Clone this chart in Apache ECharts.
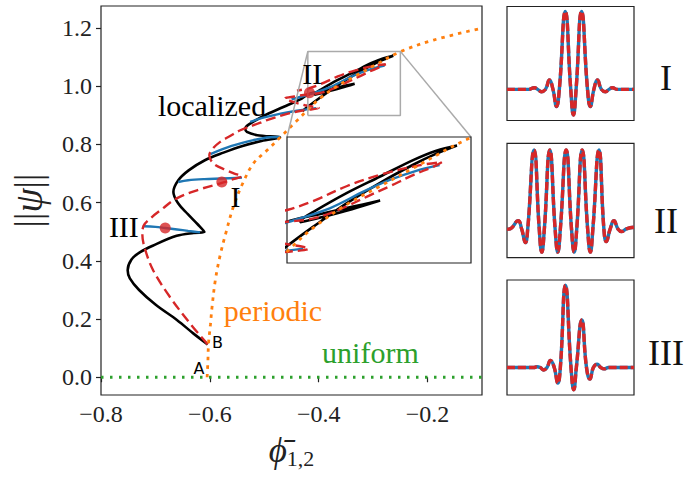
<!DOCTYPE html>
<html><head><meta charset="utf-8">
<script src="https://cdn.jsdelivr.net/npm/echarts@6/dist/echarts.min.js"></script>
<style>html,body{margin:0;padding:0;background:#fff}#c{width:685px;height:479px}</style>
</head><body><div id="c"></div>
<script>
// ---------- data ----------
const xTicks = [-0.8, -0.6, -0.4, -0.2];
const yTicks = [0.0, 0.2, 0.4, 0.6, 0.8, 1.0, 1.2];
const uniform = [[-0.8, 0], [-0.1, 0]];
const periodic = [[-0.605,0.0],[-0.6035,0.06],[-0.6025,0.115],[-0.599,0.18],[-0.596,0.241],[-0.590,0.333],[-0.581,0.420],[-0.570,0.50],[-0.557,0.585],[-0.540,0.665],[-0.520,0.735],[-0.495,0.780],[-0.471,0.824],[-0.44,0.882],[-0.415,0.929],[-0.396,0.961],[-0.365,1.002],[-0.334,1.034],[-0.303,1.066],[-0.25,1.119],[-0.189,1.159],[-0.1,1.20]];
const localized = [[-0.604,0.113],[-0.630,0.150],[-0.660,0.196],[-0.700,0.250],[-0.730,0.300],[-0.747,0.340],[-0.751,0.368],[-0.744,0.405],[-0.728,0.430],[-0.705,0.452],[-0.661,0.486],[-0.630,0.496],[-0.610,0.499],[-0.622,0.525],[-0.640,0.560],[-0.658,0.597],[-0.667,0.637],[-0.658,0.677],[-0.639,0.711],[-0.610,0.745],[-0.575,0.772],[-0.540,0.795],[-0.505,0.812],[-0.471,0.824],[-0.513,0.832],[-0.532,0.843],[-0.535,0.855],[-0.526,0.872],[-0.495,0.904],[-0.465,0.929],[-0.434,0.955],[-0.420,0.972],[-0.39,0.985],[-0.36,0.998],[-0.334,1.009],[-0.36,0.994],[-0.39,0.979],[-0.408,0.971],[-0.405,0.978],[-0.396,0.989],[-0.365,1.022],[-0.334,1.051],[-0.303,1.080],[-0.282,1.096],[-0.263,1.105],[-0.283,1.090],[-0.303,1.072],[-0.334,1.040],[-0.365,1.004],[-0.396,0.963],[-0.419,0.931],[-0.43,0.915]];
const redBranch = [[-0.604,0.113],[-0.636,0.184],[-0.673,0.275],[-0.704,0.367],[-0.719,0.44],[-0.724,0.49],[-0.722,0.52],[-0.708,0.548],[-0.690,0.575],[-0.661,0.615],[-0.620,0.645],[-0.578,0.668],[-0.555,0.682],[-0.541,0.691],[-0.555,0.700],[-0.569,0.711],[-0.593,0.734],[-0.601,0.763],[-0.594,0.787],[-0.581,0.809],[-0.562,0.83],[-0.544,0.849],[-0.507,0.875],[-0.495,0.884],[-0.458,0.905],[-0.43,0.917],[-0.40,0.925],[-0.425,0.935],[-0.45,0.948],[-0.462,0.958],[-0.445,0.965],[-0.42,0.972],[-0.40,0.976],[-0.383,0.985],[-0.365,0.999],[-0.346,1.016],[-0.325,1.034],[-0.303,1.054],[-0.285,1.068],[-0.277,1.076],[-0.297,1.071],[-0.334,1.054],[-0.365,1.034],[-0.396,1.008],[-0.419,0.993],[-0.44,0.985]];
const blue1 = [[-0.722,0.519],[-0.700,0.517],[-0.682,0.513],[-0.660,0.508],[-0.640,0.503],[-0.618,0.498]];
const blue2 = [[-0.658,0.671],[-0.64,0.677],[-0.61,0.681],[-0.578,0.683],[-0.541,0.686]];
const blue3 = [[-0.599,0.767],[-0.56,0.795],[-0.52,0.815],[-0.49,0.825],[-0.471,0.826]];
const blue4 = [[-0.526,0.878],[-0.50,0.893],[-0.47,0.906],[-0.44,0.916],[-0.405,0.925]];
const blue5 = [[-0.45,0.955],[-0.42,0.971],[-0.38,0.996],[-0.349,1.025],[-0.325,1.045],[-0.297,1.063],[-0.279,1.071]];
const markedPoints = [[-0.682,0.513],[-0.578,0.671],[-0.417,0.978]];
const zoomX = [-0.42, -0.25];
const zoomY = [0.90, 1.12];
const profileI = [[0,0],[17,0],[21.5,0.02],[24.2,0],[27,-0.03],[30.3,0],[33.4,0.12],[36.2,0],[39,-0.22],[41.2,0],[45.9,1.0],[50.2,0],[52.3,-0.33],[54.4,0],[58.7,1.0],[63.4,0],[65.6,-0.22],[68.4,0],[71.2,0.12],[74.3,0],[77.6,-0.03],[80.3,0],[83,0.02],[87,0],[100,0]];
const profileII = [[0,0],[3,0.01],[8.7,0.106],[11.6,0],[14.5,-0.17],[16.3,0],[21.3,1.0],[25.4,0],[27.4,-0.29],[29.4,0],[33.7,1.0],[37.9,0],[40,-0.29],[42,0],[46.6,1.0],[50.8,0],[52.9,-0.29],[54.9,0],[59.2,1.0],[63.5,0],[65.6,-0.29],[67.6,0],[72.4,1.0],[76.3,0],[78.2,-0.157],[81.2,0],[84.2,0.106],[87.5,0],[90.3,-0.03],[94,0.005],[100,0.025]];
const profileIII = [[0,0],[21,0],[23.7,0.01],[26.2,0],[28.9,-0.03],[31.5,0],[34.2,0.085],[37.2,0],[40,-0.19],[42,0],[46,1.0],[50.4,0],[52.6,-0.27],[54.6,0],[58.9,0.577],[62.6,0],[65.3,-0.141],[68,0],[71,0.04],[73.8,0],[76.3,-0.016],[80,0],[100,0]];
const annotations = [
  {text:'localized', at:[-0.596,0.935], color:'#000', size:30, font:'Liberation Serif'},
  {text:'II', at:[-0.412,1.044], color:'#000', size:30, font:'Liberation Serif'},
  {text:'I', at:[-0.553,0.622], color:'#000', size:30, font:'Liberation Serif'},
  {text:'III', at:[-0.758,0.519], color:'#000', size:30, font:'Liberation Serif'},
  {text:'periodic', at:[-0.484,0.230], color:'#ff7f0e', size:30, font:'Liberation Serif'},
  {text:'uniform', at:[-0.305,0.085], color:'#2ca02c', size:30, font:'Liberation Serif'},
  {text:'A', at:[-0.620,0.030], color:'#000', size:16, font:'DejaVu Sans'},
  {text:'B', at:[-0.586,0.119], color:'#000', size:16, font:'DejaVu Sans'}
];
const panelNames = ['I','II','III'];

// ---------- chart ----------
const RED='#d62728', BLUE='#1f77b4', ORANGE='#ff7f0e', GREEN='#2ca02c';
const chart = echarts.init(document.getElementById('c'), null, {renderer:'svg'});
const fmt = v => (Math.abs(v)<1e-9?0:v).toFixed(1).replace('-', '\u2212');
const serif = 'Liberation Serif';

function line(data, xi, color, width, type, z, extra) {
  return Object.assign({type:'line', data, xAxisIndex:xi, yAxisIndex:xi, showSymbol:false, symbol:'none',
    smooth:0.35, clip:true, z, silent:true, animation:false,
    lineStyle:{color, width, type, cap:'butt'}}, extra||{});
}
const hiddenAxis = (gi, min, max) => ({type:'value', gridIndex:gi, min, max, show:true,
  axisLine:{show:false}, axisTick:{show:false}, axisLabel:{show:false}, splitLine:{show:false}});

const series = [];
const panelTops = [6.5, 143.3, 280];
[0,1].forEach(gi => {
  const z = gi===0 ? 2 : 12;
  if (gi===0) series.push(line(uniform, 0, GREEN, 3, [2.5,6.5], z, {smooth:false}));
  series.push(line(localized, gi, '#000', 2.6, 'solid', z));
  [blue1,blue2,blue3,blue4,blue5].forEach(b => series.push(line(b, gi, BLUE, 2.4, 'solid', z)));
  series.push(line(redBranch, gi, RED, 2.4, [10,5], z));
  series.push(line(periodic, gi, ORANGE, 2.8, [3.5,5], z));
});
series.push(line([[zoomX[0],zoomY[0]],[zoomX[1],zoomY[0]],[zoomX[1],zoomY[1]],[zoomX[0],zoomY[1]],[zoomX[0],zoomY[0]]], 0, '#aaa', 1.5, 'solid', 3, {smooth:false}));
series.push({type:'scatter', data:markedPoints, xAxisIndex:0, yAxisIndex:0, symbolSize:11, z:4, silent:true,
  itemStyle:{color:RED}, animation:false});
[profileI, profileII, profileIII].forEach((p,i) => {
  series.push(line(p, 2+i, BLUE, 3.4, 'solid', 2, {smooth:0.5}));
  series.push(line(p, 2+i, RED, 3.4, [8,3], 3, {smooth:0.5}));
});

const gridBase = {show:true, borderColor:'#222', borderWidth:1.2, containLabel:false, outerBoundsMode:'none'};
const option = {
  backgroundColor:'#fff',
  animation:false,
  grid:[
    Object.assign({left:101, top:6, width:381, height:389, backgroundColor:'transparent', z:0}, gridBase),
    Object.assign({left:287, top:137, width:184, height:126, backgroundColor:'#fff', z:10}, gridBase),
    Object.assign({left:507, top:panelTops[0], width:127, height:114}, gridBase),
    Object.assign({left:507, top:panelTops[1], width:127, height:114.4}, gridBase),
    Object.assign({left:507, top:panelTops[2], width:127, height:115}, gridBase)
  ],
  xAxis:[
    {type:'value', gridIndex:0, min:-0.8, max:-0.1,
     axisLine:{show:false}, splitLine:{show:false},
     axisTick:{show:true, customValues:xTicks, length:5, lineStyle:{color:'#222', width:1.2}},
     axisLabel:{customValues:xTicks, formatter:fmt, fontFamily:serif, fontSize:24, color:'#222', margin:7},
     name:'{p|\u03D5\u0304}{s|1,2}', nameLocation:'middle', nameGap:36,
     nameTextStyle:{rich:{p:{fontFamily:serif, fontStyle:'italic', fontSize:35, color:'#222'},
                          s:{fontFamily:serif, fontSize:22, color:'#222', padding:[16,0,0,0]}}}},
    hiddenAxis(1, zoomX[0], zoomX[1]),
    hiddenAxis(2, 0, 100), hiddenAxis(3, 0, 100), hiddenAxis(4, 0, 100)
  ],
  yAxis:[
    {type:'value', gridIndex:0, min:-0.061, max:1.276,
     axisLine:{show:false}, splitLine:{show:false},
     axisTick:{show:true, customValues:yTicks, length:5, lineStyle:{color:'#222', width:1.2}},
     axisLabel:{customValues:yTicks, formatter:fmt, fontFamily:serif, fontSize:24, color:'#222', margin:9},
     name:'{a|||}{b|\u03C8}{a|||}', nameLocation:'middle', nameGap:54, nameRotate:90,
     nameTextStyle:{rich:{a:{fontFamily:serif, fontSize:37, color:'#222', lineHeight:38},
                          b:{fontFamily:serif, fontStyle:'italic', fontSize:39, color:'#222', lineHeight:38}}}},
    hiddenAxis(1, zoomY[0], zoomY[1]),
    hiddenAxis(2, -0.40, 1.065), hiddenAxis(3, -0.36, 1.085), hiddenAxis(4, -0.334, 1.064)
  ],
  series
};
chart.setOption(option);

const g = [];
const m = (p) => chart.convertToPixel({xAxisIndex:0, yAxisIndex:0}, p);
const ins = (p) => chart.convertToPixel({xAxisIndex:1, yAxisIndex:1}, p);
[[zoomX[0],zoomY[1]],[zoomX[1],zoomY[1]]].forEach(c => {
  const a = m(c), b = ins(c);
  g.push({type:'line', shape:{x1:a[0], y1:a[1], x2:b[0], y2:b[1]}, style:{stroke:'#aaa', lineWidth:1.5}, z:9, silent:true});
});
annotations.forEach(t => {
  const p = m(t.at);
  g.push({type:'text', x:p[0], y:p[1], z:20, silent:true,
    style:{text:t.text, fill:t.color, fontSize:t.size, fontFamily:t.font,
           textAlign:'center', textVerticalAlign:'middle', align:'center', verticalAlign:'middle'}});
});
const panelLabelY = [78, 221, 352.5];
panelNames.forEach((n,i) => {
  g.push({type:'text', x:666, y:panelLabelY[i], z:20, silent:true,
    style:{text:n, fill:'#111', fontSize:36, fontFamily:serif,
           textAlign:'center', textVerticalAlign:'middle', align:'center', verticalAlign:'middle'}});
});
chart.setOption({graphic:g});
</script></body></html>
